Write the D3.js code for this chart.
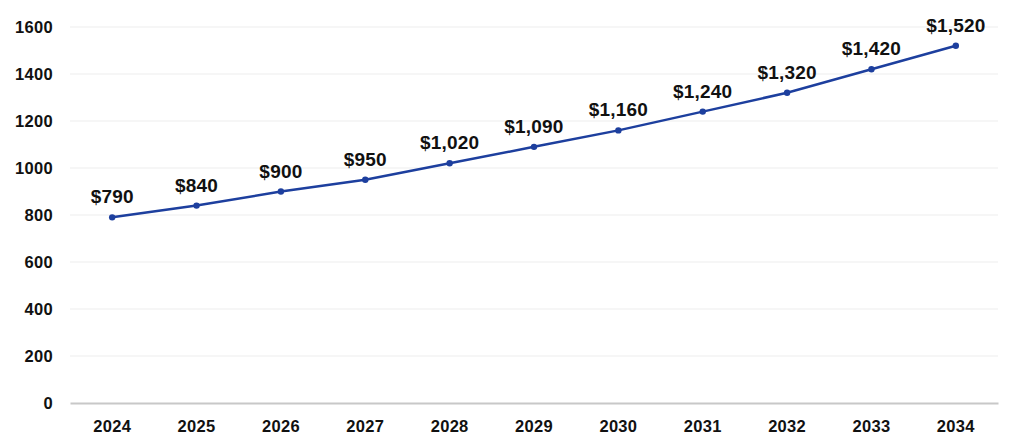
<!DOCTYPE html>
<html><head><meta charset="utf-8">
<script src="https://cdn.jsdelivr.net/npm/d3@7"></script>
<style>body{margin:0;background:#fff;}svg{display:block;font-family:"Liberation Sans",Arial,sans-serif;}</style>
</head><body><svg id="c" width="1016" height="440"></svg>
<script>
const years = ["2024","2025","2026","2027","2028","2029","2030","2031","2032","2033","2034"];
const values = [790,840,900,950,1020,1090,1160,1240,1320,1420,1520];
const yTicks = [0,200,400,600,800,1000,1200,1400,1600];

(function(){
const svg = d3.select("#c");
const mLeft = 70, mRight = 998, mTop = 27, mBottom = 403;
const x = d3.scaleBand().domain(years).range([mLeft, mRight]);
const y = d3.scaleLinear().domain([0,1600]).range([mBottom, mTop]);

svg.append("g").selectAll("line").data(yTicks.filter(d=>d>0)).join("line")
  .attr("x1", mLeft).attr("x2", mRight).attr("y1", d=>y(d)).attr("y2", d=>y(d))
  .attr("stroke", "#ededed").attr("stroke-width", 1);

const ya = svg.append("g").attr("transform", `translate(${mLeft},0)`)
  .call(d3.axisLeft(y).tickValues(yTicks).tickSize(0).tickPadding(17).tickFormat(d3.format("d")));
ya.select(".domain").remove();
ya.selectAll("text").attr("font-size", 16.5).attr("letter-spacing", "0.3px").attr("font-weight", "bold").attr("fill", "#111").attr("font-family", "Liberation Sans, Arial, sans-serif");

const xa = svg.append("g").attr("transform", `translate(0,${mBottom})`)
  .call(d3.axisBottom(x).tickSize(0).tickPadding(17));
xa.select(".domain").attr("stroke", "#c8c8c8").attr("stroke-width", 2);
xa.selectAll("text").attr("font-size", 16.5).attr("letter-spacing", "0.3px").attr("font-weight", "bold").attr("fill", "#111").attr("font-family", "Liberation Sans, Arial, sans-serif");

const data = years.map((yr,i)=>({yr, v: values[i]}));
const cx = d => x(d.yr) + x.bandwidth()/2;
svg.append("path").datum(data)
  .attr("fill","none").attr("stroke","#1d3f9e").attr("stroke-width",2.5)
  .attr("d", d3.line().x(cx).y(d=>y(d.v)));
svg.append("g").selectAll("circle").data(data).join("circle")
  .attr("cx", cx).attr("cy", d=>y(d.v)).attr("r", 3.2).attr("fill", "#1d3f9e");
svg.append("g").selectAll("text").data(data).join("text")
  .attr("x", cx).attr("y", d=>y(d.v) - 14).attr("text-anchor","middle")
  .attr("font-size", 19).attr("letter-spacing", "0.2px").attr("font-weight","bold").attr("fill","#111")
  .text(d=>"$" + d3.format(",")(d.v));
})();
</script></body></html>
